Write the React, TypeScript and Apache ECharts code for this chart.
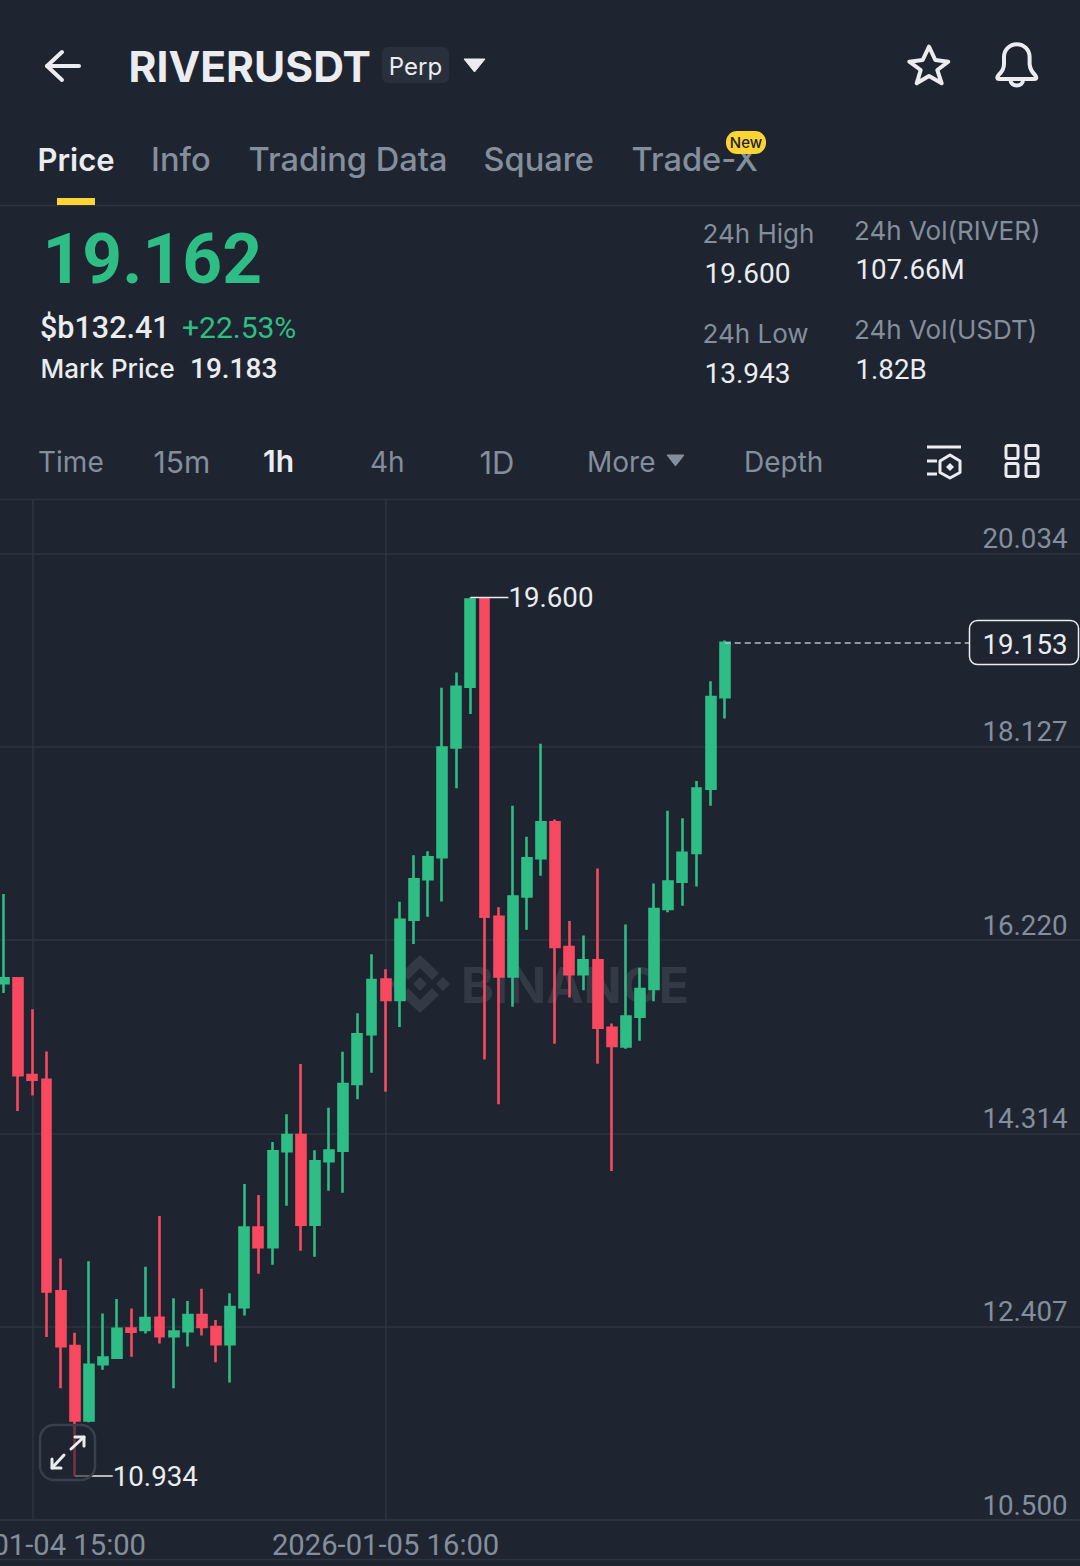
import React, { useEffect, useRef } from "react";
import * as echarts from "echarts";

const categories = [
  "2026-01-04 13:00","2026-01-04 14:00","2026-01-04 15:00","2026-01-04 16:00","2026-01-04 17:00","2026-01-04 18:00",
  "2026-01-04 19:00","2026-01-04 20:00","2026-01-04 21:00","2026-01-04 22:00","2026-01-04 23:00","2026-01-05 00:00",
  "2026-01-05 01:00","2026-01-05 02:00","2026-01-05 03:00","2026-01-05 04:00","2026-01-05 05:00","2026-01-05 06:00",
  "2026-01-05 07:00","2026-01-05 08:00","2026-01-05 09:00","2026-01-05 10:00","2026-01-05 11:00","2026-01-05 12:00",
  "2026-01-05 13:00","2026-01-05 14:00","2026-01-05 15:00","2026-01-05 16:00","2026-01-05 17:00","2026-01-05 18:00",
  "2026-01-05 19:00","2026-01-05 20:00","2026-01-05 21:00","2026-01-05 22:00","2026-01-05 23:00","2026-01-06 00:00",
  "2026-01-06 01:00","2026-01-06 02:00","2026-01-06 03:00","2026-01-06 04:00","2026-01-06 05:00","2026-01-06 06:00",
  "2026-01-06 07:00","2026-01-06 08:00","2026-01-06 09:00","2026-01-06 10:00","2026-01-06 11:00","2026-01-06 12:00",
  "2026-01-06 13:00","2026-01-06 14:00","2026-01-06 15:00","2026-01-06 16:00",
];
const emptySlotsAfterLastCandle = 25;
const labelledTimes = [2, 27];

const opens = [15.794,15.842,14.888,14.842,12.755,12.215,11.482,12.038,12.102,12.389,12.374,12.494,12.313,12.362,12.521,12.404,12.234,12.600,13.385,13.191,14.137,14.298,13.413,14.038,14.143,14.801,15.291,15.830,15.629,16.421,16.820,17.037,18.119,18.719,19.590,16.450,15.861,16.650,17.028,17.382,16.152,15.884,16.020,15.355,15.170,15.465,15.737,16.526,16.797,17.080,17.714,18.617];
const closes = [15.842,14.888,14.842,12.755,12.215,11.482,12.030,12.102,12.385,12.358,12.491,12.313,12.358,12.521,12.404,12.234,12.600,13.385,13.191,14.137,14.298,13.413,14.038,14.143,14.801,15.291,15.827,15.629,16.421,16.820,17.037,18.119,18.719,19.580,16.450,15.861,16.650,17.028,17.382,16.152,15.884,16.020,15.355,15.175,15.465,15.737,16.526,16.797,17.080,17.714,18.617,19.153];
const lows = [15.698,14.534,14.687,12.305,11.800,10.934,11.464,11.981,12.088,12.110,12.340,12.242,11.800,12.211,12.321,12.057,11.856,12.517,12.929,13.018,13.600,13.156,13.097,13.748,13.728,14.650,14.912,14.725,15.363,16.182,16.451,16.601,17.718,18.450,15.042,14.600,15.563,16.322,16.854,15.197,15.654,15.725,15.001,13.943,15.148,15.227,15.616,16.495,16.559,16.749,17.545,18.406];
const highs = [16.675,15.850,15.537,15.122,13.079,12.348,13.053,12.536,12.680,12.585,12.997,13.499,12.687,12.660,12.782,12.473,12.736,13.815,13.706,14.229,14.502,14.998,14.147,14.567,15.119,15.498,16.080,15.932,16.599,17.057,17.096,18.708,18.859,19.600,19.600,16.545,17.545,17.239,18.156,17.409,16.409,16.266,16.925,15.397,16.375,15.948,16.778,17.496,17.421,17.790,18.772,19.175];

const priceTicks = [10.5, 12.407, 14.314, 16.22, 18.127, 20.034];
const lastPrice = 19.153;
const highMarker = { index: 33, value: 19.6 };
const lowMarker = { index: 5, value: 10.934 };

const BG = "#1e2530";
const WHITE = "#eaecef";
const GREY = "#848e9c";
const GREEN = "#2ebd85";
const RED = "#f84960";
const LINE = "#2e343f";
const WM = "#343a45";
const FONT = "Inter";
const NUM = "Roboto";

const BELL =
  "M1004 57 A12.8 12.8 0 0 1 1029.6 57 L1029.6 64 Q1030 70 1035 75 Q1038 79 1034 79 L999.6 79 Q995.6 79 998.6 75 Q1004 70 1004 64 Z M1010.5 80 A6.2 5.5 0 0 0 1023 80";

function label(text: string, x: number, y: number, size: number, fill: string, weight: number | string = 400, align = "left", z = 10, family = FONT) {
  return {
    type: "text",
    x,
    y,
    z,
    style: { text, fill, fontSize: size, fontWeight: weight, fontFamily: family, textAlign: align, textVerticalAlign: "middle" },
  };
}
function num(text: string, x: number, y: number, size: number, fill: string, weight: number | string = 400) {
  return label(text, x, y, size, fill, weight, "left", 10, NUM);
}
function hline(x1: number, x2: number, y: number, stroke: string, lineWidth = 1, z = 1) {
  return { type: "line", z, shape: { x1, y1: y, x2, y2: y }, style: { stroke, lineWidth } };
}
function stroked(points: number[][], stroke = WHITE, lineWidth = 4, z = 10) {
  return { type: "polyline", z, shape: { points }, style: { stroke, lineWidth, fill: "none", lineCap: "round", lineJoin: "round" } };
}

const HEADER = [
  stroked([[62, 52], [47, 66], [62, 80]]),
  stroked([[47, 66], [79, 66]]),
  label("RIVERUSDT", 128.5, 66, 42.6, WHITE, 700),
  { type: "rect", z: 9, shape: { x: 382, y: 47, width: 67, height: 36, r: 6 }, style: { fill: "#29303b" } },
  label("Perp", 415.5, 66, 24, WHITE, 400, "center"),
  { type: "polygon", z: 10, shape: { points: [[464, 59], [485, 59], [474.5, 72]] }, style: { fill: WHITE, stroke: WHITE, lineWidth: 1, lineJoin: "round" } },
  {
    type: "polygon", z: 10,
    shape: { points: [[929, 46.7], [935.3, 60], [948.3, 61.7], [937.3, 70], [941.7, 83.3], [929, 76], [916.7, 83.3], [920.7, 70], [909.3, 61.7], [922.7, 60]] },
    style: { fill: "none", stroke: WHITE, lineWidth: 4, lineJoin: "round" },
  },
  { type: "riverBell", z: 10, style: { fill: "none", stroke: WHITE, lineWidth: 4 } },

  label("Price", 37.5, 159, 31, WHITE, 600),
  label("Info", 151, 159, 32.6, GREY, 500),
  label("Trading Data", 248.5, 159, 32.6, GREY, 500),
  label("Square", 483.5, 159, 32.6, GREY, 500),
  label("Trade-X", 631.5, 159, 32.6, GREY, 500),
  { type: "rect", z: 11, shape: { x: 726, y: 131, width: 40, height: 23, r: 11 }, style: { fill: "#fcd535" } },
  label("New", 746, 142, 15, "#1e2329", 500, "center", 12),
  { type: "rect", z: 10, shape: { x: 57, y: 198, width: 38, height: 7 }, style: { fill: "#fcd535" } },
  hline(0, 1080, 205.5, LINE, 1.5),

  num("19.162", 42.5, 259.5, 69.5, GREEN, 700),
  num("$b132.41", 40, 327, 30.5, WHITE, 500),
  num("+22.53%", 182, 327, 30, GREEN, 400),
  label("Mark Price", 40.5, 368.5, 26, WHITE, 500),
  num("19.183", 190, 368.5, 28, WHITE, 500),

  label("24h High", 702.5, 233.5, 26, GREY, 400),
  num("19.600", 704.5, 273.5, 28, WHITE, 400),
  label("24h Low", 702.5, 333.5, 26, GREY, 400),
  num("13.943", 704.5, 373.5, 28, WHITE, 400),
  label("24h Vol(RIVER)", 854, 230.5, 26, GREY, 400),
  num("107.66M", 855.5, 269.5, 27.7, WHITE, 400),
  label("24h Vol(USDT)", 854, 329.5, 26, GREY, 400),
  num("1.82B", 855.5, 369.5, 27.7, WHITE, 400),

  label("Time", 38, 462, 28, GREY, 400),
  label("15m", 153.5, 462, 30, GREY, 400),
  label("1h", 263, 461, 30, WHITE, 600),
  label("4h", 370, 462, 28, GREY, 400),
  label("1D", 479.5, 462, 31, GREY, 400),
  label("More", 587, 462, 28, GREY, 400),
  { type: "polygon", z: 10, shape: { points: [[667, 455], [684, 455], [675.5, 466]] }, style: { fill: GREY, stroke: GREY, lineWidth: 1, lineJoin: "round" } },
  label("Depth", 744, 462, 28, GREY, 400),

  hline(927, 961, 447, WHITE, 3, 10),
  hline(927, 937, 461, WHITE, 3, 10),
  hline(927, 937, 474, WHITE, 3, 10),
  {
    type: "polygon", z: 10,
    shape: { points: [[950, 455], [960, 461], [960, 472.5], [950, 478], [940, 472.5], [940, 461]] },
    style: { fill: "none", stroke: WHITE, lineWidth: 3, lineJoin: "round" },
  },
  { type: "polygon", z: 10, shape: { points: [[950, 463], [954, 467], [950, 471], [946, 467]] }, style: { fill: WHITE } },
  ...[[1006, 445.5], [1026, 445.5], [1006, 463.5], [1026, 463.5]].map(([x, y]) => ({
    type: "rect", z: 10, shape: { x, y, width: 12, height: 13, r: 2 }, style: { fill: "none", stroke: WHITE, lineWidth: 3 },
  })),
  hline(0, 1080, 499.5, LINE, 1.5),
  hline(0, 1080, 1559.5, LINE, 1.5),
];

const WATERMARK = [
  label("BINANCE", 461, 985, 50, WM, 700, "left", 0),
  { type: "polygon", z: 0, shape: { points: [[420, 955], [439, 973], [432, 980], [420, 968], [408, 980], [401, 973]] }, style: { fill: WM } },
  { type: "polygon", z: 0, shape: { points: [[420, 1013], [439, 995], [432, 988], [420, 1000], [408, 988], [401, 995]] }, style: { fill: WM } },
  { type: "polygon", z: 0, shape: { points: [[420, 977], [427, 984], [420, 991], [413, 984]] }, style: { fill: WM } },
  { type: "polygon", z: 0, shape: { points: [[443, 977], [450, 984], [443, 991], [436, 984]] }, style: { fill: WM } },
  { type: "polygon", z: 0, shape: { points: [[397, 977], [404, 984], [397, 991], [390, 984]] }, style: { fill: WM } },
];

const CHART_OVERLAY = [
  { type: "rect", z: 20, shape: { x: 969.5, y: 620.5, width: 109, height: 44, r: 8 }, style: { fill: BG, stroke: WHITE, lineWidth: 1.5 } },
  label("19.153", 1025, 644, 27.7, WHITE, 400, "center", 21, NUM),
  { type: "rect", z: 20, shape: { x: 40, y: 1425, width: 55, height: 55, r: 14 }, style: { fill: "rgba(30,37,48,0.6)", stroke: "#3a404b", lineWidth: 2.5 } },
  stroked([[71, 1449], [84, 1437]], WHITE, 3, 21),
  stroked([[75, 1437], [84, 1437], [84, 1446]], WHITE, 3, 21),
  stroked([[64, 1455], [52, 1468]], WHITE, 3, 21),
  stroked([[52, 1459], [52, 1468], [61, 1468]], WHITE, 3, 21),
];

function extremeMarker(m: { index: number; value: number }) {
  return {
    coord: [m.index, m.value],
    value: m.value,
    symbol: "rect",
    symbolSize: [38, 1.5],
    symbolOffset: [19, 0],
    itemStyle: { color: WHITE, borderWidth: 0 },
    label: {
      show: true,
      position: "right",
      distance: 0,
      formatter: m.value.toFixed(3),
      color: WHITE,
      fontSize: 27.7,
      fontFamily: NUM,
    },
  };
}

export default function App() {
  const ref = useRef<HTMLDivElement>(null);
  useEffect(() => {
    document.body.style.margin = "0";
    document.body.style.background = BG;
    echarts.graphic.registerShape("riverBell", echarts.graphic.extendPath(BELL, {}));
    const chart = echarts.init(ref.current!, null, { renderer: "svg" });
    const xData = [...categories, ...new Array(emptySlotsAfterLastCandle).fill("")];
    const showTime = (i: number) => labelledTimes.includes(i);
    const step = 14.13;
    chart.setOption({
      animation: false,
      backgroundColor: BG,
      textStyle: { fontFamily: FONT },
      grid: { left: 4.1 - step / 2, top: 500, width: xData.length * step, height: 1020, containLabel: false, outerBoundsMode: "none" },
      xAxis: {
        type: "category",
        data: xData,
        boundaryGap: true,
        axisLine: { show: true, onZero: false, lineStyle: { color: LINE, width: 1.5 } },
        axisTick: { show: false, alignWithLabel: true },
        splitLine: { show: true, alignWithLabel: true, interval: (i: number) => showTime(i), lineStyle: { color: LINE, width: 1.5 } },
        axisLabel: { interval: (i: number) => showTime(i), color: GREY, fontSize: 29.2, fontFamily: NUM, margin: 10, hideOverlap: false },
      },
      yAxis: {
        type: "value",
        position: "right",
        min: 10.5,
        max: 20.561,
        scale: true,
        axisLine: { show: false },
        axisTick: { show: false, customValues: priceTicks },
        splitLine: { show: true, lineStyle: { color: LINE, width: 1.5 } },
        axisLabel: {
          inside: true,
          customValues: priceTicks,
          margin: 17.5,
          color: GREY,
          fontSize: 27.7,
          fontFamily: NUM,
          verticalAlign: "bottom",
          padding: [0, 0, 1, 0],
          formatter: (v: number) => v.toFixed(3),
        },
      },
      series: [
        {
          type: "candlestick",
          barWidth: 9.4,
          clip: false,
          data: opens.map((o, i) => [o, closes[i], lows[i], highs[i]]),
          itemStyle: { color: GREEN, color0: RED, borderColor: GREEN, borderColor0: RED, borderWidth: 2.6 },
          markPoint: { silent: true, animation: false, data: [extremeMarker(highMarker), extremeMarker(lowMarker)] },
          markLine: {
            silent: true,
            animation: false,
            symbol: "none",
            label: { show: false },
            lineStyle: { color: "#b7bdc6", type: [6, 4], width: 1.5 },
            data: [[{ coord: [categories.length - 1, lastPrice] }, { coord: [69, lastPrice] }]],
          },
        },
      ],
      graphic: [...WATERMARK, ...HEADER, ...CHART_OVERLAY],
    });
    return () => chart.dispose();
  }, []);
  return <div ref={ref} style={{ position: "absolute", left: 0, top: 0, width: 1080, height: 1566 }} />;
}
